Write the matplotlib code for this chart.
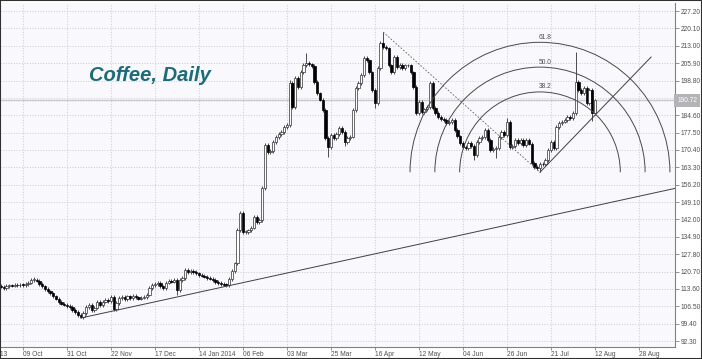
import matplotlib
matplotlib.use("Agg")
import matplotlib.pyplot as plt
from matplotlib.patches import Arc, Rectangle
import numpy as np

# daily closes (one per bar, oldest first)
closes = [
    114.5, 114.0, 114.8, 115.1, 114.9, 115.3, 115.0, 115.4, 115.2, 115.6,
    116.2, 117.2, 117.4, 117.0, 115.6, 114.6, 113.6, 112.6, 111.8, 110.6,
    109.6, 108.2, 107.6, 107.2, 106.6, 106.2, 105.0, 104.1, 103.0, 102.0,
    103.7, 106.2, 107.0, 105.0, 106.0, 108.2, 107.0, 108.4, 109.0, 108.6,
    110.3, 105.4, 107.8, 109.9, 110.3, 109.4, 110.6, 109.8, 110.8, 110.2,
    109.6, 110.0, 110.3, 111.2, 114.0, 115.2, 115.6, 116.0, 114.6, 114.0,
    116.2, 117.0, 116.6, 117.2, 113.1, 117.2, 118.0, 121.3, 120.4, 121.0,
    120.5, 120.0, 119.3, 119.0, 118.6, 118.0, 117.8, 117.2, 116.4, 116.0,
    115.6, 115.4, 115.2, 117.6, 121.0, 124.0, 137.7, 144.6, 136.8, 136.8,
    137.6, 138.6, 143.0, 141.0, 141.8, 154.8, 172.4, 169.5, 170.0, 173.6,
    175.7, 177.0, 177.7, 179.8, 180.6, 197.8, 188.0, 199.8, 196.0, 202.3,
    205.1, 206.0, 205.4, 204.8, 198.2, 193.5, 191.0, 186.7, 175.3, 171.6,
    176.5, 175.3, 177.0, 179.4, 177.7, 173.6, 175.3, 175.8, 186.7, 195.7,
    197.8, 201.0, 208.0, 207.0, 202.2, 194.9, 189.6, 204.0, 214.1, 212.5,
    212.0, 205.0, 202.2, 208.4, 204.3, 205.1, 204.0, 205.0, 205.0, 202.2,
    196.1, 185.5, 190.0, 185.9, 187.0, 188.0, 197.8, 187.5, 185.5, 183.9,
    183.0, 182.6, 181.4, 181.8, 182.6, 178.5, 176.0, 173.2, 171.6, 171.2,
    173.2, 172.0, 168.3, 173.6, 175.3, 175.7, 178.5, 174.5, 170.4, 171.0,
    171.2, 175.7, 177.7, 176.5, 181.8, 171.6, 172.0, 174.5, 173.2, 174.5,
    172.4, 174.5, 173.0, 165.0, 163.4, 163.0, 164.8, 164.5, 166.3, 170.4,
    173.6, 171.2, 179.8, 181.4, 182.0, 182.6, 183.9, 183.5, 185.5, 198.2,
    194.9, 193.7, 195.7, 189.6, 194.9, 185.5, 190.72,
]
first_open = 114.8

# wick extremes that stand out in the picture (bar index -> price)
high_marks = {12: 118.5, 105: 199.0, 111: 210.0, 139: 218.6, 184: 183.5, 209: 210.4}
low_marks = {29: 101.7, 64: 111.1, 119: 167.5, 125: 172.0, 136: 187.5,
             172: 166.5, 180: 167.1, 196: 161.3, 215: 182.3}

date_labels = ["09 Oct", "31 Oct", "22 Nov", "17 Dec", "14 Jan 2014", "06 Feb",
               "03 Mar", "25 Mar", "16 Apr", "12 May", "04 Jun", "26 Jun",
               "21 Jul", "12 Aug", "28 Aug"]
date_pos = [8, 24, 40, 56, 72, 88, 104, 120, 136, 152, 168, 184, 200, 216, 232]
price_ticks = [92.30, 99.40, 106.50, 113.60, 120.70, 127.80, 134.90, 142.00,
               149.10, 156.20, 163.30, 170.40, 177.50, 184.60, 191.70, 198.80,
               205.90, 213.00, 220.10, 227.20]
last_price = 190.72

# anchors of the drawn tools
trend_start = (29, 101.7)        # long support line from the Oct low
swing_high = (139, 218.6)
swing_low = (196, 161.3)
fib_levels = [0.382, 0.5, 0.618]
up_line_end = (236.4, 208.4)

closes = np.array(closes)
n = len(closes)
opens = np.concatenate([[first_open], closes[:-1]])
highs = np.maximum(opens, closes) + 0.7
lows = np.minimum(opens, closes) - 0.7
for k, v in high_marks.items():
    highs[k] = v
for k, v in low_marks.items():
    lows[k] = v

W, H = 702, 359
fig = plt.figure(figsize=(W / 100, H / 100), dpi=100)
ax = fig.add_axes([0, 12 / H, 675 / W, 344 / H])
ax.set_facecolor("#f8f8fd")
xlim = (-0.36, 245.1)
ylim = (89.85, 230.5)
ax.set_xlim(*xlim)
ax.set_ylim(*ylim)

grid_kw = dict(color="#c4c4c8", lw=0.6, ls=(0, (1.2, 2)), zorder=0)
for y in price_ticks:
    ax.axhline(y, **grid_kw)
for x in date_pos:
    ax.axvline(x, **grid_kw)

ax.axhline(last_price, color="#c8c8cc", lw=1.0, zorder=1)

# candles
x = np.arange(n)
ax.vlines(x, lows, highs, color="#303030", lw=0.6, zorder=2)
for i in range(n):
    o, c = opens[i], closes[i]
    up = c >= o
    bot = min(o, c)
    h = max(abs(c - o), 0.35)
    ax.add_patch(Rectangle((i - 0.38, bot), 0.76, h,
                           facecolor="white" if up else "black",
                           edgecolor="#303030" if up else "black",
                           lw=0.5, zorder=3))

# long support line
slope = (154.7 - trend_start[1]) / (245.1 - trend_start[0])
ax.plot([trend_start[0], xlim[1]], [trend_start[1], trend_start[1] + slope * (xlim[1] - trend_start[0])],
        color="#404040", lw=0.7, zorder=4)

# dotted line from swing high to swing low
ax.plot([swing_high[0], swing_low[0]], [swing_high[1], swing_low[1]],
        color="#606060", lw=0.6, ls=(0, (2, 2)), zorder=4)

# line from the low
ax.plot([swing_low[0], up_line_end[0]], [swing_low[1], up_line_end[1]],
        color="#404040", lw=0.7, zorder=4)

# fibonacci arcs (circles in screen space)
px_bar = 675 / (xlim[1] - xlim[0])
px_unit = 344 / (ylim[1] - ylim[0])
dist = np.hypot((swing_high[0] - swing_low[0]) * px_bar, (swing_high[1] - swing_low[1]) * px_unit)
for lv in fib_levels:
    r = dist * lv
    ax.add_patch(Arc(swing_low, 2 * r / px_bar, 2 * r / px_unit, theta1=0, theta2=180,
                     color="#4a4a4a", lw=0.7, zorder=4))
    ax.text(swing_low[0] + 1.8, swing_low[1] + r / px_unit + 0.6, f"{lv * 100:.1f}",
            fontsize=4.8, color="#505050", ha="center", va="bottom",
            family="Liberation Sans", zorder=5)

# title
ax.text(32, 201, "Coffee, Daily", fontsize=14.5, fontweight="bold", fontstyle="italic",
        color="#1d6b78", family="Liberation Sans", ha="left", va="center")

# axes styling
for s in ["top", "left"]:
    ax.spines[s].set_visible(False)
for s in ["right", "bottom"]:
    ax.spines[s].set_color("#808080")
    ax.spines[s].set_linewidth(0.8)
ax.yaxis.tick_right()
ax.set_yticks(price_ticks)
ax.set_yticklabels([f"{v:.2f}" for v in price_ticks])
ax.tick_params(axis="y", length=3, width=0.6, color="#808080", pad=1,
               labelsize=4.8, labelcolor="#505050")
ax.set_xticks(date_pos)
ax.set_xticklabels(date_labels, ha="left")
ax.tick_params(axis="x", length=2, width=0.6, color="#808080", pad=1,
               labelsize=4.8, labelcolor="#505050")
for lab in ax.get_xticklabels() + ax.get_yticklabels():
    lab.set_family("Liberation Sans")

# label cut at the left border
ax.text(2.4, -0.012, "17 Sep 2013", transform=ax.get_xaxis_transform(), ha="right", va="top",
        fontsize=4.8, color="#505050", family="Liberation Sans", clip_on=False)

# last price marker
ax.text(xlim[1] + 0.8, last_price, f"{last_price:.2f}", fontsize=4.8, color="white",
        va="center", ha="left", family="Liberation Sans", clip_on=False, zorder=6,
        bbox=dict(boxstyle="square,pad=0.45", fc="#b4b4b8", ec="none"))

# outer frame
fig.add_artist(Rectangle((0, 0), 1, 1, transform=fig.transFigure, fill=False,
                         ec="#303030", lw=1.5))

fig.savefig("out.png", dpi=100)
